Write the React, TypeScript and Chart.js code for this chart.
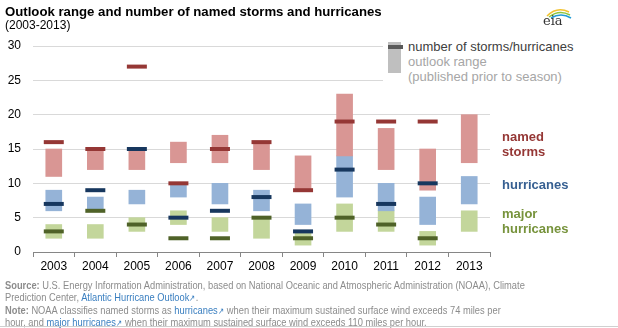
import React, { useEffect, useRef } from "react";
import { Chart, registerables } from "chart.js";
Chart.register(...registerables);

const years = ["2003","2004","2005","2006","2007","2008","2009","2010","2011","2012","2013"];
const stormLow = [11,12,12,13,13,12,9,14,12,9,13];
const stormHigh = [15,15,15,16,17,16,14,23,18,15,20];
const hurLow = [6,6,7,8,7,6,4,8,6,4,7];
const hurHigh = [9,8,9,10,10,9,7,14,10,8,11];
const majLow = [2,2,3,4,3,2,1,3,3,1,3];
const majHigh = [4,4,5,6,5,5,3,7,6,3,6];
const stormActual = [16,15,27,10,15,16,9,19,19,19,null];
const hurActual = [7,9,15,5,6,8,3,12,7,10,null];
const majActual = [3,6,4,2,2,5,2,5,4,2,null];
const yTicks = [0,5,10,15,20,25,30];

const FONT = "Arial, 'Liberation Sans', sans-serif";

export default function App() {
  const ref = useRef<HTMLCanvasElement>(null);
  useEffect(() => {
    const ctx = ref.current!.getContext("2d")!;
    const rng = (lo: number[], hi: number[]) => lo.map((l, i) => [l, hi[i]]);
    const bar = (label: string, data: any, color: string) => ({
      type: "bar" as const, label, data, backgroundColor: color, borderWidth: 0,
      barThickness: 16, grouped: false, order: 2,
    });
    const mark = (label: string, data: any, color: string) => ({
      type: "line" as const, label, data, showLine: false, pointStyle: "line",
      pointRadius: 10, pointHoverRadius: 10, pointBorderWidth: 4, borderColor: color,
      pointBorderColor: color, backgroundColor: color, order: 1,
    });
    const chart = new Chart(ctx, {
      type: "bar",
      data: {
        labels: years,
        datasets: [
          bar("named range", rng(stormLow, stormHigh), "#d99694"),
          bar("hurricane range", rng(hurLow, hurHigh), "#95b3d7"),
          bar("major range", rng(majLow, majHigh), "#c3d69b"),
          mark("named", stormActual, "#953735"),
          mark("hurricanes", hurActual, "#17375e"),
          mark("major", majActual, "#4f6228"),
        ] as any,
      },
      options: {
        responsive: false,
        animation: false,
        layout: { padding: { top: 46, right: 128, left: 0, bottom: 0 } },
        plugins: { legend: { display: false }, tooltip: { enabled: false } },
        scales: {
          x: {
            offset: true,
            grid: { offset: true, drawOnChartArea: false, drawTicks: true, tickLength: 5, color: "#868686" },
            border: { color: "#868686" },
            ticks: { color: "#000", font: { family: FONT, size: 12 }, padding: 2 },
            afterFit: (s: any) => { s.height = 76; },
          },
          y: {
            min: 0, max: 30,
            afterBuildTicks: (s: any) => { s.ticks = yTicks.map((v) => ({ value: v })); },
            grid: { color: "#d9d9d9", drawTicks: false },
            border: { display: false },
            ticks: { color: "#000", font: { family: FONT, size: 12 }, padding: 12 },
            afterFit: (s: any) => { s.width = 33; },
          },
        },
      } as any,
    });
    return () => chart.destroy();
  }, []);

  const link = { color: "#3a7fc0" };
  const ext = <span style={{ fontSize: 9, color: "#3a7fc0" }}>&#x2197;</span>;
  return (
    <div style={{ position: "fixed", left: 0, top: 0, width: 618, height: 328, background: "#fff", fontFamily: FONT, overflow: "hidden" }}>
      <canvas ref={ref} width={618} height={328} style={{ position: "absolute", left: 0, top: 0 }} />
      <div style={{ position: "absolute", left: 5, top: 4, fontSize: 13.2, fontWeight: "bold", color: "#000" }}>Outlook range and number of named storms and hurricanes</div>
      <div style={{ position: "absolute", left: 5, top: 18, fontSize: 12, color: "#000" }}>(2003-2013)</div>
      <svg style={{ position: "absolute", left: 538, top: 4 }} width={36} height={24}>
        <path d="M9 12 Q19 2 31 8" stroke="#f2c230" strokeWidth={1.5} fill="none" />
        <path d="M11 13 Q21 5 32 11" stroke="#8cc63f" strokeWidth={1.5} fill="none" />
        <path d="M13 14 Q23 8 33 14" stroke="#1f9bd7" strokeWidth={1.5} fill="none" />
        <text x={5} y={21} fontFamily="'DejaVu Serif', serif" fontSize={13} fill="#333">eia</text>
      </svg>
      <div style={{ position: "absolute", left: 383, top: 38, width: 210, height: 46, background: "#fff" }} />
      <div style={{ position: "absolute", left: 388, top: 42, width: 13, height: 31, background: "#bfbfbf" }} />
      <div style={{ position: "absolute", left: 388, top: 45, width: 15, height: 3.5, background: "#595959" }} />
      <div style={{ position: "absolute", left: 408, top: 39, fontSize: 13, color: "#404040", lineHeight: "15px" }}>number of storms/hurricanes</div>
      <div style={{ position: "absolute", left: 408, top: 54, fontSize: 13, color: "#a6a6a6", lineHeight: "15px" }}>outlook range<br />(published prior to season)</div>
      <div style={{ position: "absolute", left: 502, top: 129, fontSize: 13, fontWeight: "bold", color: "#953735", lineHeight: "15px" }}>named<br />storms</div>
      <div style={{ position: "absolute", left: 502, top: 177, fontSize: 13, fontWeight: "bold", color: "#376092", lineHeight: "15px" }}>hurricanes</div>
      <div style={{ position: "absolute", left: 502, top: 206, fontSize: 13, fontWeight: "bold", color: "#77933c", lineHeight: "15px" }}>major<br />hurricanes</div>
      <div style={{ position: "absolute", left: 5, top: 280, width: 760, fontSize: 11.5, color: "#8c8c8c", lineHeight: "11.8px", whiteSpace: "nowrap", transform: "scaleX(0.81)", transformOrigin: "0 0" }}>
        <b>Source:</b> U.S. Energy Information Administration, based on National Oceanic and Atmospheric Administration (NOAA), Climate<br />
        Prediction Center, <span style={link}>Atlantic Hurricane Outlook</span>{ext}.<br />
        <b>Note:</b> NOAA classifies named storms as <span style={link}>hurricanes</span>{ext} when their maximum sustained surface wind exceeds 74 miles per<br />
        hour, and <span style={link}>major hurricanes</span>{ext} when their maximum sustained surface wind exceeds 110 miles per hour.
      </div>
      <div style={{ position: "absolute", left: 0, top: 326, width: 618, height: 1, background: "#d0d0d0" }} />
    </div>
  );
}
